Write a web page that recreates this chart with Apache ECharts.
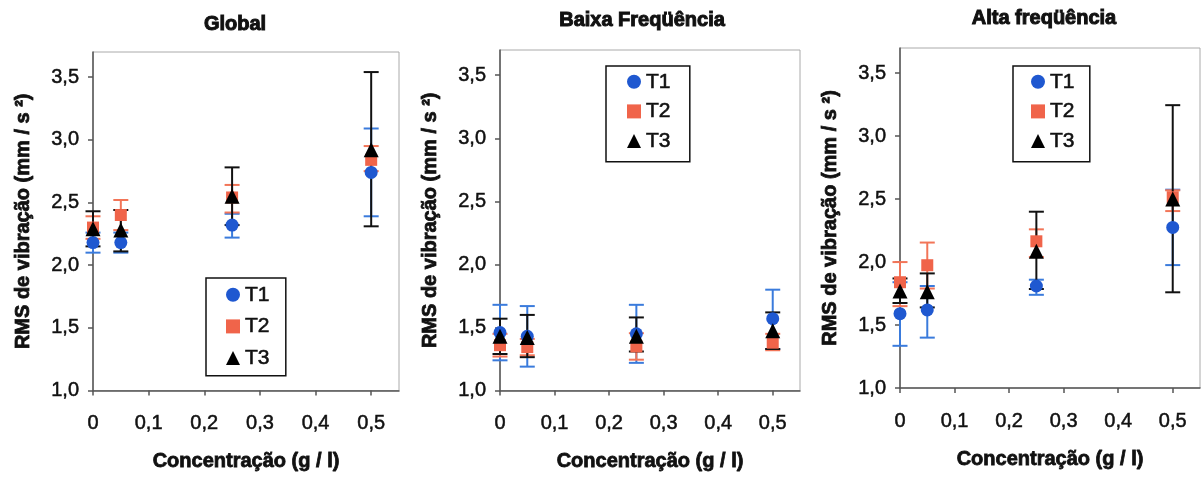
<!DOCTYPE html>
<html><head><meta charset="utf-8">
<script src="https://cdn.jsdelivr.net/npm/echarts@6/dist/echarts.min.js"></script>
<style>html,body{margin:0;padding:0;background:#fff}#c{width:1202px;height:477px}</style>
</head><body><div id="c"></div>
<script>
// ---- data ----
const concentrations = [0, 0.05, 0.25, 0.5];
const xTicks = [0, 0.1, 0.2, 0.3, 0.4, 0.5];
const xTickLabels = ['0', '0,1', '0,2', '0,3', '0,4', '0,5'];
const yTicks = [1.0, 1.5, 2.0, 2.5, 3.0, 3.5];
const yTickLabels = ['1,0', '1,5', '2,0', '2,5', '3,0', '3,5'];
const panelTitles = ['Global', 'Baixa Freqüência', 'Alta freqüência'];
const seriesNames = ['T1', 'T2', 'T3'];
const xAxisTitle = 'Concentração (g / l)';
const yAxisTitle = 'RMS de vibração (mm / s ²)';

// Global
const globalT1 = [2.18, 2.18, 2.32, 2.74];
const globalT1Low = [2.10, 2.10, 2.22, 2.39];
const globalT1High = [2.26, 2.26, 2.41, 3.09];
const globalT2 = [2.30, 2.40, 2.54, 2.84];
const globalT2Low = [2.21, 2.28, 2.42, 2.75];
const globalT2High = [2.39, 2.52, 2.64, 2.95];
const globalT3 = [2.29, 2.28, 2.55, 2.92];
const globalT3Low = [2.15, 2.11, 2.32, 2.31];
const globalT3High = [2.43, 2.44, 2.78, 3.54];

// Baixa frequencia
const baixaT1 = [1.46, 1.43, 1.45, 1.57];
const baixaT1Low = [1.24, 1.19, 1.22, 1.33];
const baixaT1High = [1.68, 1.67, 1.68, 1.80];
const baixaT2 = [1.36, 1.345, 1.35, 1.38];
const baixaT2Low = [1.27, 1.28, 1.245, 1.32];
const baixaT2High = [1.45, 1.41, 1.455, 1.45];
const baixaT3 = [1.43, 1.42, 1.43, 1.475];
const baixaT3Low = [1.29, 1.265, 1.31, 1.33];
const baixaT3High = [1.57, 1.60, 1.58, 1.62];

// Alta frequencia
const altaT1 = [1.59, 1.62, 1.81, 2.275];
const altaT1Low = [1.335, 1.40, 1.74, 1.976];
const altaT1High = [1.84, 1.81, 1.86, 2.575];
const altaT2 = [1.84, 1.975, 2.165, 2.515];
const altaT2Low = [1.65, 1.79, 2.04, 2.405];
const altaT2High = [2.00, 2.155, 2.26, 2.57];
const altaT3 = [1.77, 1.765, 2.085, 2.50];
const altaT3Low = [1.675, 1.64, 1.786, 1.76];
const altaT3High = [1.87, 1.91, 2.40, 3.246];

const panels = [
  {vals: [globalT1, globalT2, globalT3], lows: [globalT1Low, globalT2Low, globalT3Low], highs: [globalT1High, globalT2High, globalT3High]},
  {vals: [baixaT1, baixaT2, baixaT3], lows: [baixaT1Low, baixaT2Low, baixaT3Low], highs: [baixaT1High, baixaT2High, baixaT3High]},
  {vals: [altaT1, altaT2, altaT3], lows: [altaT1Low, altaT2Low, altaT3Low], highs: [altaT1High, altaT2High, altaT3High]}
];

// ---- layout / style ----
const FONT = '"Liberation Sans", Arial, sans-serif';
const grids = [
  {left: 93, top: 52, width: 306, height: 340},
  {left: 500, top: 50, width: 300, height: 342},
  {left: 900, top: 48, width: 300, height: 340}
];
const titlePos = [[235, 24], [642, 20], [1044, 18]];
const legendPos = [
  {left: 206, top: 278, padding: [6, 16, 7, 20], itemGap: 10},
  {left: 606, top: 66, padding: [5, 19, 10, 21], itemGap: 8},
  {left: 1013, top: 66, padding: [5, 15, 10, 18], itemGap: 8}
];
const markerColors = ['#1f58d0', '#f0644a', '#000000'];
const errColors = ['#3a7bdc', '#f27558', '#111111'];
const symbols = ['circle', 'rect', 'triangle'];
const symbolSizes = [13, 12, 15];

function labelFor(values, labels) {
  return function (v) {
    for (let k = 0; k < values.length; k++) if (Math.abs(values[k] - v) < 1e-6) return labels[k];
    return '';
  };
}

function makeErrRender(color) {
  return function (params, api) {
    const x = api.value(0), lo = api.value(1), hi = api.value(2);
    const a = api.coord([x, lo]), b = api.coord([x, hi]);
    const hw = 7.5;
    const st = {stroke: color, lineWidth: 2};
    return {type: 'group', children: [
      {type: 'line', shape: {x1: a[0], y1: a[1], x2: b[0], y2: b[1]}, style: st},
      {type: 'line', shape: {x1: a[0] - hw, y1: a[1], x2: a[0] + hw, y2: a[1]}, style: st},
      {type: 'line', shape: {x1: b[0] - hw, y1: b[1], x2: b[0] + hw, y2: b[1]}, style: st}
    ]};
  };
}

const tickText = {fontFamily: FONT, fontSize: 20, color: '#111', textBorderColor: '#111', textBorderWidth: 0.5};
const nameText = {fontFamily: FONT, fontSize: 20, fontWeight: 'bold', color: '#111', textBorderColor: '#111', textBorderWidth: 0.8};

const xAxes = [], yAxes = [], series = [], legends = [], graphics = [];
grids.forEach((g, i) => {
  xAxes.push({
    type: 'value', gridIndex: i, min: 0, max: 0.55,
    name: xAxisTitle, nameLocation: 'middle', nameGap: 61,
    nameTextStyle: nameText,
    axisLine: {show: true, onZero: false, lineStyle: {color: '#555', width: 1.5}},
    axisTick: {show: true, length: 5, customValues: xTicks, lineStyle: {color: '#555', width: 1.5}},
    axisLabel: Object.assign({customValues: xTicks, margin: 23, formatter: labelFor(xTicks, xTickLabels)}, tickText),
    splitLine: {show: false}
  });
  yAxes.push({
    type: 'value', gridIndex: i, min: 1.0, max: 3.7,
    name: yAxisTitle, nameLocation: 'middle', nameGap: 60,
    nameTextStyle: nameText,
    axisLine: {show: true, onZero: false, lineStyle: {color: '#555', width: 1.5}},
    axisTick: {show: true, length: 5, customValues: yTicks, lineStyle: {color: '#555', width: 1.5}},
    axisLabel: Object.assign({customValues: yTicks, margin: 14, formatter: labelFor(yTicks, yTickLabels)}, tickText),
    splitLine: {show: false}
  });
  const p = panels[i];
  for (let s = 0; s < 3; s++) {
    series.push({
      type: 'custom', name: seriesNames[s] + ' erro', xAxisIndex: i, yAxisIndex: i, z: 2,
      renderItem: makeErrRender(errColors[s]),
      encode: {x: 0, y: [1, 2]},
      data: concentrations.map((c, k) => [c, p.lows[s][k], p.highs[s][k]]),
      silent: true
    });
  }
  for (let s = 0; s < 3; s++) {
    series.push({
      type: 'scatter', name: seriesNames[s], xAxisIndex: i, yAxisIndex: i, z: 3,
      symbol: symbols[s], symbolSize: symbolSizes[s],
      itemStyle: {color: markerColors[s], opacity: 1},
      data: concentrations.map((c, k) => [c, p.vals[s][k]])
    });
  }
  const L = legendPos[i];
  legends.push({
    data: seriesNames, orient: 'vertical', left: L.left, top: L.top, padding: L.padding,
    itemGap: L.itemGap, itemWidth: 14, itemHeight: 14,
    borderColor: '#111', borderWidth: 1.5, backgroundColor: '#fff',
    textStyle: {fontFamily: FONT, fontSize: 21, color: '#111', textBorderColor: '#111', textBorderWidth: 0.6}
  });
  graphics.push({
    type: 'text', x: titlePos[i][0], y: titlePos[i][1],
    style: {text: panelTitles[i], font: 'bold 20px ' + FONT, fill: '#111', stroke: '#111', lineWidth: 1,
            textAlign: 'center', textVerticalAlign: 'middle'}
  });
});

const chart = echarts.init(document.getElementById('c'), null, {renderer: 'canvas'});
chart.setOption({
  backgroundColor: '#fff',
  animation: false,
  grid: grids.map(g => Object.assign({show: true, borderColor: '#aaa', borderWidth: 1, backgroundColor: 'transparent'}, g)),
  xAxis: xAxes, yAxis: yAxes, series: series, legend: legends, graphic: graphics
});
</script></body></html>
